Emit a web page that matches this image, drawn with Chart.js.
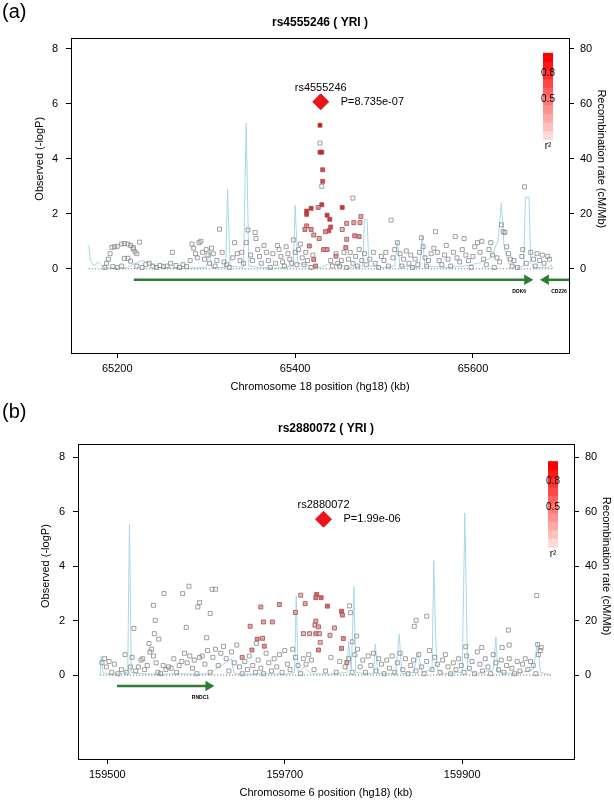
<!DOCTYPE html>
<html>
<head>
<meta charset="utf-8">
<script src="https://cdn.jsdelivr.net/npm/chart.js@4.4.0/dist/chart.umd.min.js"></script>
<style>
  body { margin: 0; background: #fff; }
  .panel { position: absolute; left: 0; width: 614px; height: 400px; }
</style>
</head>
<body>
<div class="panel" style="top:0"><canvas id="chartA" width="614" height="400"></canvas></div>
<div class="panel" style="top:400px"><canvas id="chartB" width="614" height="400"></canvas></div>
<script>
// ---------- panel (a) data ----------
const leadA = { name: 'rs4555246', kb: 65428.8, logp: 6.07, p: 'P=8.735e-07' };
// [kb, -logP, r2]
const snpsA = [
  [65428,5.22,0.9],[65428,4.57,0],[65428,4.24,0.9],[65430,4.24,0.9],[65431,3.6,0.7],[65431,3.18,0.7],[65430,3.0,0],
  [65430,2.33,0.8],[65426,2.23,0.4],[65418,2.2,0.8],[65413,2.1,0.8],[65413,1.98,0.8],[65453,2.23,0.8],[65465,2.57,0],
  [65436,1.95,0.8],[65439,1.8,0.8],[65440,1.52,0.7],[65438,1.38,0.7],[65434,1.35,0.4],[65413,1.56,0.4],[65411,1.43,0.4],
  [65418,1.43,0.4],[65421,1.23,0.3],[65416,0.83,0.4],[65427,1.1,0.3],[65432,0.7,0.4],[65436,0.7,0.4],[65421,0.34,0.4],
  [65423,0.1,0.4],[65446,0.46,0.3],[65457,0.77,0.4],[65458,1.07,0.3],[65458,1.65,0.3],[65466,1.68,0.3],[65473,1.68,0.3],
  [65474,1.9,0.3],[65467,1.2,0.4],[65472,1.17,0.4],[65453,1.43,0.2],
  [65188,0.2,0],[65190,0.35,0],[65192,0.55,0],[65194,0.78,0],[65197,0.8,0],[65200,0.82,0],[65205,0.9,0],[65208,0.92,0],
  [65212,0.9,0],[65215,0.85,0],[65218,0.72,0],[65220,0.62,0],[65222,0.55,0],[65218,0.78,0],[65225,0.97,0],[65186,0.05,0],
  [65195,0.08,0],[65200,0.05,0],[65205,0.1,0],[65208,0.38,0],[65212,0.38,0],[65215,0.28,0],[65222,0.1,0],[65228,0.05,0],
  [65232,0.15,0],[65236,0.2,0],[65240,0.1,0],[65244,0.05,0],[65248,0.12,0],[65252,0.08,0],[65256,0.1,0],[65260,0.2,0],
  [65262,0.6,0],[65266,0.12,0],[65270,0.05,0],[65274,0.15,0],[65278,0.08,0],[65282,0.3,0],[65284,0.9,0],[65286,0.75,0],
  [65288,0.55,0],[65290,0.4,0],[65292,0.95,0],[65294,1.0,0],[65296,0.6,0],[65298,0.35,0],[65300,0.7,0],[65302,0.5,0],
  [65304,0.2,0],[65306,0.75,0],[65308,0.55,0],[65310,0.1,0],[65312,0.3,0],[65315,1.44,0],[65318,0.6,0],[65320,0.25,0],
  [65323,0.15,0],[65326,0.05,0],[65330,0.4,0],[65332,0.95,0],[65335,0.55,0],[65338,0.3,0],[65340,0.6,0],[65342,0.2,0],
  [65345,0.95,0],[65347,1.41,0],[65350,0.5,0],[65352,0.3,0],[65355,1.32,0],[65356,1.1,0],[65358,0.7,0],[65360,0.45,0],
  [65362,0.2,0],[65365,0.85,0],[65368,0.6,0],[65370,0.3,0],[65372,0.05,0],[65375,0.55,0],[65378,0.2,0],[65380,0.85,0],
  [65382,0.7,0],[65384,0.45,0],[65386,0.25,0],[65388,0.1,0],[65390,0.8,0],[65392,0.55,0],[65394,0.35,0],[65396,0.2,0],
  [65398,1.05,0],[65400,0.6,0],[65402,0.15,0],[65404,0.7,0],[65406,0.9,0],[65408,0.4,0],[65410,0.15,0],[65412,0.6,0],
  [65414,0.3,0],[65418,0.05,0],[65420,0.5,0],[65440,0.3,0],[65442,0.1,0],[65446,0.55,0],[65448,0.2,0],
  [65450,0.1,0],[65452,0.3,0],[65455,0.6,0],[65458,0.05,0],[65460,0.35,0],[65462,0.6,0],[65465,0.2,0],[65468,0.45,0],
  [65470,0.1,0],[65472,0.7,0],[65475,0.3,0],[65478,0.55,0],[65480,0.15,0],[65484,0.35,0],[65488,0.6,0],[65490,0.2,0],
  [65494,0.05,0],[65497,0.45,0],[65500,0.3,0],[65502,0.6,0],[65505,0.1,0],[65508,1.77,0],[65510,0.4,0],[65512,0.7,0],
  [65515,0.95,0],[65518,0.55,0],[65520,0.1,0],[65522,0.35,0],[65525,0.65,0],[65528,0.2,0],[65530,0.5,0],[65532,0.05,0],
  [65535,0.35,0],[65538,0.15,0],[65540,0.6,0],[65542,1.13,0],[65544,0.8,0],[65546,0.4,0],[65548,0.1,0],[65550,0.3,0],
  [65553,0.55,0],[65556,0.75,0],[65558,1.35,0],[65560,0.6,0],[65562,0.3,0],[65565,0.15,0],[65568,0.5,0],[65570,0.85,0],
  [65572,0.35,0],[65575,0.1,0],[65578,0.6,0],[65580,1.17,0],[65582,0.4,0],[65585,0.25,0],[65588,0.7,0],[65590,1.1,0],
  [65592,0.5,0],[65595,0.3,0],[65598,0.05,0],[65600,0.45,0],[65602,0.8,0],[65605,0.95,0],[65608,0.6,0],[65610,1.0,0],
  [65612,0.35,0],[65615,0.15,0],[65618,0.7,0],[65620,0.95,0],[65622,0.5,0],[65624,0.05,0],[65627,0.4,0],[65630,0.25,0],
  [65632,1.6,0],[65634,1.35,0],[65636,1.32,0],[65638,0.8,0],[65640,0.55,0],[65642,0.35,0],[65644,0.1,0],[65646,0.3,0],
  [65650,0.05,0],[65655,0.45,0],[65656,0.7,0],[65658,2.98,0],[65660,0.2,0],[65665,0.6,0],[65668,0.35,0],[65670,0.1,0],
  [65672,0.55,0],[65675,0.3,0],[65678,0.5,0],[65680,0.2,0],[65684,0.45,0],[65686,0.35,0]
];
// [kb, cM/Mb]
const recombA = [
  [65168,8.5],[65170,3],[65174,1],[65178,2.5],[65182,1.5],[65186,0.5],[65195,0.3],[65210,0.2],[65220,2],[65228,3],
  [65235,2.5],[65245,0.5],[65260,0.3],[65280,0.2],[65300,0.5],[65304,7],[65306,0.5],[65322,0.5],[65324,29],[65327,1],
  [65342,0.5],[65345,53],[65348,1],[65360,0.5],[65380,0.3],[65398,1],[65400,23],[65403,2],[65420,1],[65428,0.5],
  [65440,2],[65460,0.5],[65476,1],[65478,18],[65481,18],[65483,1],[65500,0.5],[65512,1],[65515,10],[65518,1],
  [65540,0.5],[65543,12],[65546,1],[65570,0.5],[65590,1],[65606,2],[65620,4],[65628,10],[65632,24],[65635,8],
  [65640,2],[65650,0.5],[65657,1],[65659,26],[65663,26],[65665,2],[65670,0.5],[65685,0.5],[65688,1.5],[65690,0]
];
// genes: name, start, end (arrow points toward end)
const genesA = [ { name: 'DOK6', from: 65218.6, to: 65661 }, { name: 'CD226', from: 65712, to: 65682 } ];
const xTicksA = [65200, 65400, 65600];

// ---------- panel (b) data ----------
const leadB = { name: 'rs2880072', kb: 159743.7, logp: 5.72, p: 'P=1.99e-06' };
const snpsB = [
  [159736,2.96,0.6],[159741,2.84,0.6],[159735,2.84,0.5],[159748,2.53,0.6],[159764,2.34,0.6],[159765,2.2,0.4],
  [159723,2.62,0.3],[159718,2.93,0.2],[159712,2.3,0.3],[159694,2.59,0.3],[159673,2.5,0.3],[159676,1.95,0.3],
  [159686,1.95,0.3],[159661,1.79,0.3],[159669,1.32,0.4],[159675,1.35,0.3],[159677,1.06,0.4],[159663,0.92,0.4],
  [159735,1.98,0.3],[159734,1.83,0.2],[159738,1.77,0.3],[159739,1.52,0.2],[159735,1.52,0.4],[159721,1.52,0.2],
  [159728,1.52,0.2],[159751,1.46,0.2],[159756,1.73,0.2],[159766,1.34,0.4],[159764,0.98,0.4],[159738,0.92,0.4],
  [159740,1.2,0.2],[159652,0.65,0.3],[159770,0.46,0.3],
  [159592,3.26,0],[159564,2.99,0],[159585,2.99,0],[159618,3.15,0],[159622,3.15,0],[159604,2.66,0],[159616,2.26,0],
  [159602,2.5,0],[159552,2.56,0],[159554,2.01,0],[159589,1.75,0],[159773,2.54,0],[159774,2.29,0],[159848,2.01,0],
  [159860,2.16,0],[159846,1.79,0],[159984,2.92,0],[159952,1.65,0],[159530,1.71,0],[159553,1.52,0],[159558,1.32,0],
  [159547,1.16,0],[159612,1.37,0],[159781,1.43,0],[159776,1.22,0],[159668,1.16,0],[159904,1.04,0],[159922,1.01,0],
  [159945,1.01,0],[159989,1.01,0],[159985,1.12,0],[159953,1.1,0],
  [159494,0.45,0],[159497,0.6,0],[159499,0.3,0],[159502,0.5,0],[159505,0.1,0],[159508,0.4,0],[159512,0.05,0],
  [159516,0.2,0],[159520,0.75,0],[159522,0.1,0],[159526,0.3,0],[159528,0.65,0],[159532,0.15,0],[159535,0.3,0],
  [159538,0.55,0],[159540,0.6,0],[159542,0.2,0],[159545,0.35,0],[159548,0.85,0],[159550,0.95,0],[159552,0.7,0],
  [159555,0.45,0],[159557,0.1,0],[159560,0.05,0],[159563,0.35,0],[159566,0.2,0],[159569,0.3,0],[159572,0.25,0],
  [159575,0.6,0],[159578,0.1,0],[159581,0.35,0],[159584,0.5,0],[159587,0.8,0],[159590,0.45,0],[159593,0.7,0],
  [159596,0.25,0],[159598,0.55,0],[159601,0.05,0],[159604,0.65,0],[159607,0.7,0],[159610,0.4,0],[159613,0.9,0],
  [159616,0.1,0],[159619,0.65,0],[159622,0.95,0],[159625,0.35,0],[159628,0.8,0],[159631,1.05,0],[159634,0.6,0],
  [159637,0.15,0],[159640,0.85,0],[159643,0.45,0],[159646,1.1,0],[159649,0.3,0],[159652,0.05,0],[159655,0.5,0],
  [159658,0.2,0],[159660,0.7,0],[159664,0.35,0],[159667,0.1,0],[159670,0.55,0],[159673,0.25,0],[159676,0.05,0],
  [159679,0.8,0],[159682,0.45,0],[159685,0.15,0],[159688,0.6,0],[159691,0.3,0],[159694,0.75,0],[159697,0.1,0],
  [159700,0.9,0],[159703,0.4,0],[159706,0.2,0],[159709,0.95,0],[159712,0.65,0],[159715,0.35,0],[159718,0.05,0],
  [159721,0.6,0],[159724,0.4,0],[159727,0.75,0],[159730,0.55,0],[159733,0.2,0],[159746,0.15,0],[159752,0.65,0],
  [159758,0.1,0],[159762,0.5,0],[159768,0.3,0],[159772,0.6,0],[159776,0.1,0],[159779,0.75,0],[159782,0.95,0],
  [159785,0.3,0],[159788,0.55,0],[159791,0.1,0],[159794,0.7,0],[159797,0.35,0],[159800,0.8,0],[159803,0.15,0],
  [159806,0.6,0],[159809,0.4,0],[159812,0.05,0],[159815,0.55,0],[159818,0.25,0],[159821,0.7,0],[159824,0.1,0],
  [159827,0.45,0],[159830,0.8,0],[159833,0.2,0],[159836,0.6,0],[159839,0.05,0],[159842,0.35,0],[159845,0.55,0],
  [159848,0.15,0],[159851,0.75,0],[159854,0.3,0],[159857,0.05,0],[159860,0.5,0],[159863,0.9,0],[159866,0.2,0],
  [159869,0.65,0],[159872,0.4,0],[159875,0.1,0],[159878,0.55,0],[159881,0.75,0],[159884,0.3,0],[159887,0.05,0],
  [159890,0.45,0],[159893,0.2,0],[159896,0.6,0],[159899,0.35,0],[159902,0.1,0],[159905,0.7,0],[159908,0.25,0],
  [159911,0.5,0],[159914,0.05,0],[159917,0.85,0],[159920,0.4,0],[159923,0.15,0],[159926,0.6,0],[159929,0.3,0],
  [159932,0.05,0],[159935,0.75,0],[159938,0.45,0],[159941,0.2,0],[159944,0.55,0],[159947,0.1,0],[159950,0.35,0],
  [159953,0.6,0],[159956,0.25,0],[159959,0.05,0],[159962,0.5,0],[159965,0.15,0],[159968,0.4,0],[159971,0.6,0],
  [159974,0.2,0],[159977,0.5,0],[159980,0.35,0],[159983,0.05,0],[159986,0.75,0],[159988,0.9,0]
];
const recombB = [
  [159492,0],[159493,7],[159495,1],[159500,0.3],[159515,0.5],[159523,1],[159525,55.5],[159527,1],[159540,0.5],
  [159560,0.3],[159580,0.5],[159600,0.3],[159615,0.5],[159640,6],[159643,0.5],[159660,0.3],[159680,0.5],
  [159700,0.3],[159711,1],[159713,29],[159715,1],[159722,3],[159730,0.5],[159750,0.3],[159770,1],[159772,12],
  [159775,2],[159778,32.5],[159780,1],[159790,0.5],[159800,0.5],[159802,11.5],[159805,0.5],[159825,0.5],
  [159829,15],[159832,0.5],[159845,1],[159850,8],[159855,1],[159866,2],[159868,42],[159870,15],[159872,2],
  [159880,0.5],[159900,1],[159903,59.5],[159906,2],[159915,0.5],[159935,2],[159938,14],[159940,1],[159960,0.5],
  [159980,2],[159985,12],[159988,1],[160000,0]
];
const genesB = [ { name: 'RNDC1', from: 159511, to: 159614 } ];
const xTicksB = [159500, 159700, 159900];

const yTicks = [0, 2, 4, 6, 8];
const y2Ticks = [0, 20, 40, 60, 80];
const legendLevels = [0.1, 0.2, 0.3, 0.4, 0.5, 0.6, 0.7, 0.8, 0.9, 1.0];

function r2Fill(r) {
  if (r < 0.15) return 'rgba(255,255,255,0)';
  const g = Math.round(235 - r * 235);
  return `rgb(${Math.round(245 - r * 35)},${g},${g})`;
}

const FONT = 'Liberation Sans, Arial, sans-serif';

function makePanel(id, cfg) {
  const decor = {
    id: 'decor',
    afterDraw(chart) {
      const { ctx, chartArea: a, scales } = chart;
      const x = scales.x, y = scales.y;
      ctx.save();
      ctx.strokeStyle = '#000'; ctx.lineWidth = 1;
      ctx.strokeRect(a.left + 0.5, a.top + 0.5, a.right - a.left, a.bottom - a.top);
      ctx.fillStyle = '#000';
      ctx.font = '20px ' + FONT; ctx.textAlign = 'left'; ctx.textBaseline = 'top';
      ctx.fillText(cfg.tag, 2, 2);
      ctx.font = 'bold 12px ' + FONT; ctx.textAlign = 'center'; ctx.textBaseline = 'middle';
      ctx.fillText(cfg.title, (a.left + a.right) / 2, cfg.titleY);
      ctx.font = '11px ' + FONT;
      ctx.fillText(cfg.xTitle, (a.left + a.right) / 2, a.bottom + 34);
      ctx.save(); ctx.translate(cfg.yTitleX, y.getPixelForValue(4)); ctx.rotate(-Math.PI / 2);
      ctx.fillText('Observed (-logP)', 0, 0); ctx.restore();
      ctx.save(); ctx.translate(a.right + 32, y.getPixelForValue(4)); ctx.rotate(Math.PI / 2);
      ctx.fillText('Recombination rate (cM/Mb)', 0, 0); ctx.restore();
      // lead SNP labels
      ctx.font = '11px ' + FONT;
      ctx.fillText(cfg.lead.name, x.getPixelForValue(cfg.lead.kb), y.getPixelForValue(cfg.lead.logp) - 14);
      ctx.textAlign = 'left';
      ctx.fillText(cfg.lead.p, x.getPixelForValue(cfg.lead.kb) + 20, y.getPixelForValue(cfg.lead.logp));
      // gene labels
      ctx.font = 'bold 5px ' + FONT; ctx.textAlign = 'center';
      cfg.genes.forEach(g => {
        const px = x.getPixelForValue(Math.max(g.from, g.to)) - 8;
        ctx.fillText(g.name, Math.min(px, a.right - 10), y.getPixelForValue(-0.4) + 12);
      });
      // r2 colour bar
      const bx = a.right - 26, bw = 10;
      const top = y.getPixelForValue(7.85), bot = y.getPixelForValue(4.7);
      const step = (bot - top) / legendLevels.length;
      legendLevels.forEach((lv, i) => {
        ctx.fillStyle = `rgb(255,${Math.round(240 - lv * 240)},${Math.round(240 - lv * 240)})`;
        ctx.fillRect(bx, bot - (i + 1) * step, bw, step + 0.5);
      });
      ctx.fillStyle = '#000'; ctx.font = '10px ' + FONT;
      ctx.fillText('0.8', bx + bw / 2, y.getPixelForValue(7.1));
      ctx.fillText('0.5', bx + bw / 2, y.getPixelForValue(6.15));
      ctx.fillText('r²', bx + bw / 2, y.getPixelForValue(4.45));
      ctx.restore();
    }
  };

  const datasets = [
    {
      type: 'line', label: 'recomb', yAxisID: 'y2', order: 5,
      data: cfg.recomb.map(([k, c]) => ({ x: k, y: c })),
      borderColor: '#a8d8e8', borderWidth: 1, pointRadius: 0, tension: 0
    },
    {
      type: 'line', label: 'baseline', order: 4,
      data: [{ x: cfg.recomb[0][0], y: 0 }, { x: cfg.recomb[cfg.recomb.length - 1][0], y: 0 }],
      borderColor: '#666', borderWidth: 1, borderDash: [1, 2], pointRadius: 0
    },
    ...cfg.genes.map(g => ({
      type: 'line', label: g.name, order: 3,
      data: [{ x: g.from, y: -0.4 }, { x: g.to, y: -0.4 }],
      borderColor: '#2e7d32', borderWidth: 2.5,
      pointStyle: 'triangle', pointRadius: [0, 3.5], pointRotation: g.to > g.from ? 90 : -90,
      pointBackgroundColor: '#2e7d32', pointBorderColor: '#2e7d32'
    })),
    {
      type: 'scatter', label: 'snps', order: 2,
      data: cfg.snps.map(([k, v]) => ({ x: k, y: v })),
      pointStyle: 'rect', pointRadius: 2.8, borderWidth: 0.8,
      pointBackgroundColor: cfg.snps.map(s => r2Fill(s[2])),
      pointBorderColor: cfg.snps.map(s => s[2] < 0.15 ? '#888' : '#9a5050')
    },
    {
      type: 'scatter', label: 'lead', order: 1,
      data: [{ x: cfg.lead.kb, y: cfg.lead.logp }],
      pointStyle: 'rectRot', pointRadius: 8, backgroundColor: '#e8161b', borderColor: '#e8161b'
    }
  ];

  new Chart(document.getElementById(id), {
    data: { datasets },
    plugins: [decor],
    options: {
      responsive: false, animation: false,
      layout: { padding: { top: cfg.top, left: 0, right: 0, bottom: 0 } },
      plugins: { legend: { display: false }, tooltip: { enabled: false } },
      scales: {
        x: {
          type: 'linear', min: cfg.xMin, max: cfg.xMax,
          afterBuildTicks: s => { s.ticks = cfg.xTicks.map(v => ({ value: v })); },
          afterFit: s => { s.height = cfg.bottomH; },
          ticks: { color: '#000', font: { size: 11, family: FONT }, padding: 4, callback: v => String(v) },
          grid: { drawOnChartArea: false, tickLength: 5, color: '#000' }, border: { color: '#000' }
        },
        y: {
          position: 'left', min: cfg.yMin, max: cfg.yMax,
          afterBuildTicks: s => { s.ticks = yTicks.map(v => ({ value: v })); },
          afterFit: s => { s.width = cfg.leftW; },
          ticks: { color: '#000', font: { size: 11, family: FONT }, padding: 8 },
          grid: { drawOnChartArea: false, tickLength: 5, color: '#000' }, border: { color: '#000' }
        },
        y2: {
          position: 'right', min: cfg.yMin * 10, max: cfg.yMax * 10,
          afterBuildTicks: s => { s.ticks = y2Ticks.map(v => ({ value: v })); },
          afterFit: s => { s.width = cfg.rightW; },
          ticks: { color: '#000', font: { size: 11, family: FONT }, padding: 6 },
          grid: { drawOnChartArea: false, tickLength: 5, color: '#000' }, border: { color: '#000' }
        }
      }
    }
  });
}

makePanel('chartA', {
  tag: '(a)', title: 'rs4555246 ( YRI )', titleY: 23, yTitleX: 40,
  xTitle: 'Chromosome 18 position (hg18) (kb)',
  lead: leadA, snps: snpsA, recomb: recombA, genes: genesA, xTicks: xTicksA,
  xMin: 65148, xMax: 65708, yMin: -3.06, yMax: 8.39,
  top: 38, leftW: 71, rightW: 45, bottomH: 47
});
makePanel('chartB', {
  tag: '(b)', title: 'rs2880072 ( YRI )', titleY: 29, yTitleX: 46,
  xTitle: 'Chromosome 6 position (hg18) (kb)',
  lead: leadB, snps: snpsB, recomb: recombB, genes: genesB, xTicks: xTicksB,
  xMin: 159467, xMax: 160026, yMin: -3.08, yMax: 8.48,
  top: 44, leftW: 78, rightW: 40, bottomH: 41
});
</script>
</body>
</html>
